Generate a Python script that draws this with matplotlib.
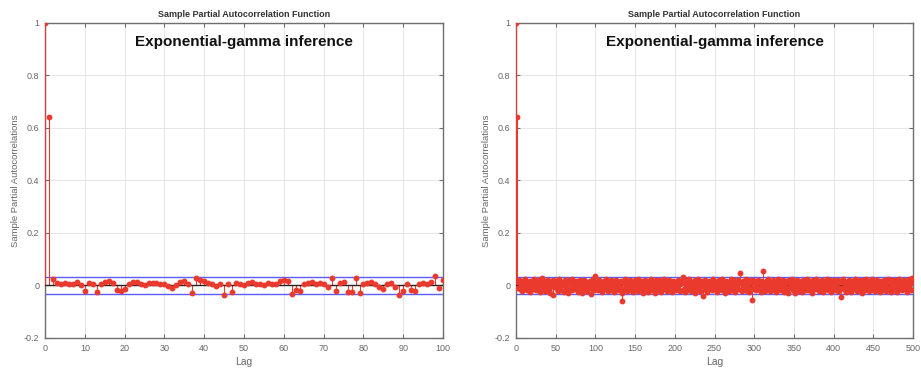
import numpy as np
import matplotlib
matplotlib.use("Agg")
import matplotlib.pyplot as plt

plt.rcParams['font.family'] = ['Liberation Sans', 'DejaVu Sans']

# Partial autocorrelations, lags 0..100 (left panel)
pacf_short = [1.0, 0.64,
    0.025, 0.008, 0.006, 0.010, 0.004, 0.006, 0.012, 0.003, -0.022, 0.008,
    0.004, -0.024, 0.005, 0.012, 0.018, 0.009, -0.018, -0.022, -0.012, 0.006,
    0.012, 0.014, 0.005, 0.002, 0.008, 0.010, 0.009, 0.004, 0.006, -0.003,
    -0.010, 0.003, 0.012, 0.016, 0.006, -0.028, 0.030, 0.022, 0.018, 0.008,
    0.004, -0.002, 0.006, -0.038, 0.004, -0.024, 0.010, 0.006, 0.003, 0.008,
    0.015, 0.004, 0.006, 0.002, 0.008, 0.007, 0.004, 0.018, 0.020, 0.016,
    -0.034, -0.018, -0.022, 0.004, 0.008, 0.012, 0.004, 0.010, 0.006, -0.004,
    0.030, -0.020, 0.008, 0.015, -0.024, -0.026, 0.030, -0.030, 0.004, 0.010,
    0.013, 0.006, -0.004, -0.014, 0.006, 0.008, -0.006, -0.035, -0.020, 0.004,
    -0.018, -0.020, 0.006, 0.010, 0.004, 0.012, 0.035, -0.008, 0.022]

# Partial autocorrelations, lags 0..500 (right panel)
pacf_long_head = [1.0, 0.64]
pacf_long_a = [0.012, -0.008, 0.021, -0.015, 0.004, 0.018, -0.022, 0.009, -0.003, 0.025,
    -0.011, 0.006, -0.019, 0.014, 0.002, -0.026, 0.017, -0.007, 0.011, -0.013,
    0.023, -0.004, 0.008, -0.018, 0.015, -0.009, 0.001, 0.019, -0.024, 0.007,
    -0.012, 0.027, -0.005, 0.013, -0.020, 0.003, 0.016, -0.010, 0.022, -0.016,
    0.005, -0.028, 0.010, -0.002, 0.020, -0.035, 0.012, -0.006, 0.018, -0.014]
pacf_long_b = [0.009, -0.021, 0.024, -0.003, 0.011, -0.017, 0.006, 0.015, -0.025, 0.002,
    0.019, -0.008, 0.013, -0.030, 0.008, 0.021, -0.012, 0.004, -0.019, 0.026,
    -0.006, 0.010, -0.015, 0.017, -0.001, 0.012, -0.023, 0.007, 0.020, -0.011,
    0.003, -0.027, 0.016, -0.004, 0.022, -0.014, 0.009, -0.020, 0.014, 0.001,
    -0.009, 0.018, -0.031, 0.011, -0.005, 0.024, -0.016, 0.006, 0.035, -0.010]
pacf_long_c = [0.015, -0.018, 0.004, 0.021, -0.007, 0.012, -0.026, 0.008, -0.002, 0.017,
    -0.013, 0.025, -0.009, 0.003, -0.021, 0.014, 0.007, -0.016, 0.019, -0.004,
    0.010, -0.024, 0.016, -0.011, 0.022, -0.003, 0.005, -0.019, 0.013, -0.008,
    0.018, -0.029, -0.058, 0.011, -0.014, 0.023, -0.006, 0.009, -0.022, 0.015,
    0.002, -0.017, 0.020, -0.010, 0.006, -0.025, 0.012, -0.001, 0.019, -0.012]
pacf_long_d = [0.008, -0.020, 0.026, -0.005, 0.013, -0.015, 0.003, 0.018, -0.027, 0.010,
    -0.007, 0.021, -0.012, 0.005, -0.023, 0.016, 0.001, -0.010, 0.024, -0.017,
    0.007, -0.004, 0.014, -0.028, 0.019, -0.008, 0.011, -0.019, 0.022, -0.002,
    0.006, -0.024, 0.017, -0.013, 0.009, 0.025, -0.006, 0.012, -0.021, 0.004,
    -0.015, 0.020, -0.009, 0.015, -0.026, 0.003, 0.018, -0.011, 0.010, -0.018]
pacf_long_e = [0.014, -0.006, 0.021, -0.016, 0.005, -0.022, 0.011, 0.016, 0.031, -0.012,
    0.008, -0.025, 0.019, -0.003, 0.012, -0.018, 0.024, -0.009, 0.002, -0.020,
    0.015, -0.007, 0.010, -0.027, 0.020, -0.014, 0.006, 0.023, -0.011, 0.013,
    -0.021, 0.004, 0.017, -0.040, 0.009, -0.005, 0.022, -0.016, 0.011, -0.023,
    0.007, 0.018, -0.010, 0.014, -0.002, -0.019, 0.025, -0.008, 0.012, -0.015]
pacf_long_f = [0.010, -0.024, 0.016, -0.004, 0.021, -0.013, 0.007, -0.019, 0.026, -0.008,
    0.013, -0.027, 0.005, 0.018, -0.011, 0.009, -0.021, 0.015, -0.002, 0.023,
    -0.016, 0.006, -0.010, 0.019, -0.025, 0.012, -0.005, 0.020, -0.014, 0.008,
    0.046, -0.017, 0.011, -0.022, 0.017, -0.007, 0.014, -0.012, 0.024, -0.020,
    0.004, -0.026, 0.016, -0.009, 0.021, -0.056, 0.009, 0.019, -0.013, 0.007]
pacf_long_g = [-0.018, 0.015, -0.006, 0.022, -0.011, 0.012, -0.024, 0.017, -0.003, 0.056,
    -0.015, 0.010, -0.020, 0.018, -0.008, 0.025, -0.012, 0.006, -0.022, 0.014,
    0.003, -0.017, 0.020, -0.009, 0.011, -0.026, 0.016, -0.004, 0.023, -0.014,
    0.008, -0.019, 0.013, -0.001, 0.021, -0.023, 0.009, -0.007, 0.018, -0.016,
    0.012, -0.028, 0.019, -0.005, 0.015, -0.011, 0.024, -0.018, 0.006, -0.030]
pacf_long_h = [0.013, -0.009, 0.020, -0.021, 0.007, 0.016, -0.013, 0.011, -0.025, 0.022,
    -0.004, 0.014, -0.017, 0.009, -0.010, 0.026, -0.019, 0.005, 0.017, -0.012,
    0.010, -0.027, 0.019, -0.006, 0.012, -0.015, 0.024, -0.008, 0.004, -0.022,
    0.018, -0.011, 0.015, -0.003, 0.021, -0.026, 0.008, -0.014, 0.016, -0.007,
    0.023, -0.018, 0.011, -0.001, 0.019, -0.024, 0.006, 0.014, -0.010, 0.020]
pacf_long_i = [-0.016, 0.009, -0.005, 0.022, -0.020, 0.012, -0.011, -0.045, 0.017, -0.008,
    0.025, -0.014, 0.007, -0.023, 0.015, 0.002, -0.018, 0.020, -0.009, 0.011,
    -0.026, 0.018, -0.004, 0.013, -0.015, 0.024, -0.010, 0.006, -0.021, 0.016,
    -0.007, 0.021, -0.013, 0.010, -0.027, 0.019, -0.003, 0.014, -0.017, 0.023,
    -0.011, 0.008, -0.022, 0.017, -0.006, 0.012, -0.019, 0.026, -0.009, 0.005]
pacf_long_j = [-0.020, 0.015, -0.012, 0.021, -0.004, 0.010, -0.024, 0.018, -0.008, 0.013,
    -0.016, 0.022, -0.002, 0.007, -0.021, 0.016, -0.011, 0.024, -0.014, 0.009,
    -0.026, 0.019, -0.005, 0.012, -0.018, 0.020, -0.009, 0.006, -0.023, 0.017,
    -0.003, 0.025, -0.015, 0.011, -0.019, 0.014, -0.007, 0.021, -0.012, 0.008,
    -0.025, 0.018, -0.006, 0.023, -0.013, 0.010, -0.017, 0.027, 0.020]

pacf_long = (pacf_long_head + pacf_long_a + pacf_long_b + pacf_long_c + pacf_long_d
             + pacf_long_e + pacf_long_f + pacf_long_g + pacf_long_h + pacf_long_i
             + pacf_long_j)

conf_bound = 0.032
panel_title = "Sample Partial Autocorrelation Function"
panel_note = "Exponential-gamma inference"
yticks = [-0.2, 0, 0.2, 0.4, 0.6, 0.8, 1]
ytick_labels = ["-0.2", "0", "0.2", "0.4", "0.6", "0.8", "1"]

RED = "#ea3a2e"
BLUE = "#5a5cff"
AXIS_GRAY = "#6e6e6e"
TEXT_GRAY = "#666666"

fig = plt.figure(figsize=(9.21, 3.72), dpi=100)


def draw_panel(ax, values, max_lag, xticks):
    lags = np.arange(len(values))
    vals = np.asarray(values)
    ax.vlines(lags, 0, vals, color=RED, lw=0.8, zorder=3)
    ax.plot(lags, vals, 'o', color=RED, ms=3.2, mec=RED, zorder=4)
    ax.axhline(0, color="#222222", lw=1.0, zorder=3.5)
    ax.axhline(conf_bound, color=BLUE, lw=1.0, zorder=2.5)
    ax.axhline(-conf_bound, color=BLUE, lw=1.0, zorder=2.5)
    ax.set_xlim(0, max_lag)
    ax.set_ylim(-0.2, 1.0)
    ax.set_xticks(xticks)
    ax.set_xticklabels([str(t) for t in xticks])
    ax.set_yticks(yticks)
    ax.set_yticklabels(ytick_labels)
    ax.grid(True, color="#e6e6e6", lw=0.7, zorder=0)
    ax.set_axisbelow(True)
    for s in ax.spines.values():
        s.set_color(AXIS_GRAY)
        s.set_linewidth(1.0)
    ax.tick_params(direction='in', length=3, width=0.8, colors=AXIS_GRAY,
                   labelcolor=TEXT_GRAY, labelsize=6.5, top=True, right=True, pad=4)
    ax.set_title(panel_title, fontsize=6.5, fontweight='bold', color="#333333", pad=4)
    ax.set_xlabel("Lag", fontsize=7.5, color=TEXT_GRAY, labelpad=3)
    ax.set_ylabel("Sample Partial Autocorrelations", fontsize=6.8, color=TEXT_GRAY, labelpad=3)
    ax.text(0.5, 0.94, panel_note, transform=ax.transAxes, ha='center', va='center',
            fontsize=11, fontweight='bold', color="#111111", zorder=5)


ax1 = fig.add_axes([0.0489, 0.0914, 0.4322, 0.847])
draw_panel(ax1, pacf_short, 100, list(range(0, 101, 10)))

ax2 = fig.add_axes([0.5603, 0.0914, 0.4310, 0.847])
draw_panel(ax2, pacf_long, 500, list(range(0, 501, 50)))

fig.savefig("out.png", dpi=100)
